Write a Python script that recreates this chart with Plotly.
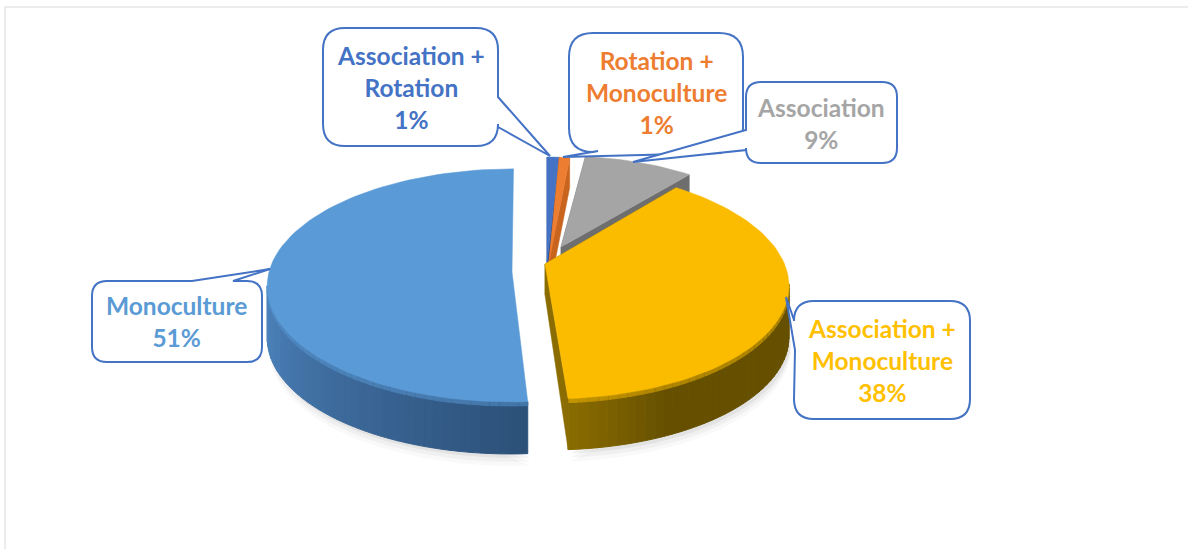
import math
import plotly.graph_objects as go

# ---- data ----
labels = ["Association +<br>Rotation", "Rotation +<br>Monoculture", "Association",
          "Association +<br>Monoculture", "Monoculture"]
values = [1, 1, 9, 38, 51]
face_colors = ["#4472C4", "#ED7D31", "#A5A5A5", "#FBBC00", "#5A9AD6"]
text_colors = ["#4472C4", "#ED7D31", "#A5A5A5", "#FFC000", "#5B9BD5"]
side_near = ["#2F5597", "#C8641E", "#6E6E6E", "#8A6C00", "#5088C4"]
side_far = ["#2F5597", "#C8641E", "#6E6E6E", "#665000", "#2C5078"]
shade_start = [0, 0, 0, 0, 0.49]
shade_end = [1, 1, 1, 0.15, 1]

# ---- drawing geometry (slice apex, radius, tilt, thickness) ----
apex_x = [547, 549, 561, 545, 512]
apex_y = [262, 262, 247, 264, 272]
radius_x = [220, 190, 225, 239.5, 243]
radius_y = [121, 121, 105, 112, 115]
persp = [0.153, 0.153, 0.153, 0.17, 0.115]
skew = [0, 0, 0, -5, 1.5]
h_center = [30, 30, 15, 31, 50]
h_rim = [30, 30, 18, 51, 52]
cut_side = [True, True, True, True, False]
draw_order = [2, 0, 1, 4, 3]
W, H = 1188, 549


def point(i, r, deg):
    t = math.radians(deg)
    u, v = r * math.sin(t), r * math.cos(t)
    d = 1 + persp[i] * v
    return apex_x[i] + radius_x[i] * u / d + skew[i] * v, apex_y[i] - radius_y[i] * v / d


def thick(i, r):
    return h_center[i] + r * (h_rim[i] - h_center[i])


def mix(a, b, t):
    ca = [int(a[k:k + 2], 16) for k in (1, 3, 5)]
    cb = [int(b[k:k + 2], 16) for k in (1, 3, 5)]
    return "#%02x%02x%02x" % tuple(round(x + (y - x) * t) for x, y in zip(ca, cb))


def poly(fig, xs, ys, color, line=None, width=0.5):
    fig.add_trace(go.Scatter(x=xs + xs[:1], y=ys + ys[:1], mode="lines", fill="toself",
                             fillcolor=color, line=dict(color=line or color, width=width),
                             hoverinfo="skip", showlegend=False))


fig = go.Figure()
total = sum(values)
cum = [sum(values[:i]) for i in range(len(values))]
spans = [(c / total * 360, (c + v) / total * 360) for c, v in zip(cum, values)]

for i in draw_order:
    a0, a1 = spans[i]
    n = max(2, int((a1 - a0) / 2))
    angs = [a0 + (a1 - a0) * k / n for k in range(n + 1)]
    rim = [point(i, 1, a) for a in angs]
    h = thick(i, 1)
    front = [(p, a) for p, a in zip(rim, angs) if math.cos(math.radians(a)) < -persp[i]]
    # soft shadow under large slices
    if values[i] > 20:
        for grow, alpha in ((12, 0.025), (8, 0.035), (4, 0.05)):
            xs = [p[0] + 2 for p, _ in front]
            ys = [p[1] + h + grow for p, _ in front]
            poly(fig, xs, ys, f"rgba(0,0,0,{alpha})", line="rgba(0,0,0,0)", width=0)
    # rim wall, only where it faces the viewer
    for k in range(len(front) - 1):
        (x0, y0), a_k = front[k]
        (x1, y1), a_n = front[k + 1]
        t = abs(a1 - (a_k + a_n) / 2) / (a1 - a0)
        f = max(0, min(1, (t - shade_start[i]) / (shade_end[i] - shade_start[i])))
        c = mix(side_near[i], side_far[i], f)
        poly(fig, [x0, x1, x1, x0], [y0, y1, y1 + h, y0 + h], c, width=1)
        lip = mix(face_colors[i], c, 0.5)
        poly(fig, [x0, x1, x1, x0], [y0, y1, y1 + 4, y0 + 4], lip, width=1)
    # cut walls
    if cut_side[i]:
        for a in (a0, a1):
            x1, y1 = point(i, 1, a)
            c = side_near[i]
            poly(fig, [apex_x[i], x1, x1, apex_x[i]],
                 [apex_y[i], y1, y1 + h, apex_y[i] + h_center[i]], c)
    # top face
    xs = [apex_x[i]] + [p[0] for p in rim]
    ys = [apex_y[i]] + [p[1] for p in rim]
    poly(fig, xs, ys, face_colors[i])


def bubble(x0, y0, x1, y1, r, side, pts):
    """Rounded rectangle callout; pts are the pointer vertices on the given side."""
    p = [f"M {x0 + r} {y0}"]
    if side == "top":
        p += [f"L {a} {b}" for a, b in pts]
    p += [f"L {x1 - r} {y0}", f"Q {x1} {y0} {x1} {y0 + r}"]
    if side == "right":
        p += [f"L {a} {b}" for a, b in pts]
    p += [f"L {x1} {y1 - r}", f"Q {x1} {y1} {x1 - r} {y1}"]
    if side == "bottom":
        p += [f"L {a} {b}" for a, b in pts]
    p += [f"L {x0 + r} {y1}", f"Q {x0} {y1} {x0} {y1 - r}"]
    if side == "left":
        p += [f"L {a} {b}" for a, b in pts]
    p += [f"L {x0} {y0 + r}", f"Q {x0} {y0} {x0 + r} {y0} Z"]
    return dict(type="path", path=" ".join(p), xref="x", yref="y", fillcolor="white",
                line=dict(color="#4472C4", width=2), layer="above")


shapes = [
    dict(type="rect", xref="x", yref="y", x0=5, y0=7, x1=W + 20, y1=H + 20,
         line=dict(color="#D9D9D9", width=1), layer="below"),
    bubble(323, 28, 498, 146, 22, "right", [(498, 97), (550, 156), (498, 127)]),
    bubble(569, 33, 743, 152, 24, "bottom", [(720, 153), (563, 157), (598, 151)]),
    bubble(746, 82, 897, 163, 15, "left", [(746, 150), (633, 162), (746, 130)]),
    bubble(92, 281, 262, 362, 15, "top", [(192, 281), (270, 269), (233, 281)]),
    bubble(794, 301, 970, 419, 20, "left", [(795, 350), (786, 297), (794, 320)]),
]

text_centers = [(410.5, 87), (656, 92), (821, 123.5), (882, 360), (176, 321.5)]
annotations = [
    dict(x=c[0], y=c[1], xref="x", yref="y", text=f"{lab}<br>{val}%", showarrow=False,
         xanchor="center", yanchor="middle", align="center",
         font=dict(family="Lato", size=24.5, color=col, weight="bold"))
    for lab, val, col, c in zip(labels, values, text_colors, text_centers)
]

fig.update_layout(
    width=W, height=H, margin=dict(l=0, r=0, t=0, b=0),
    paper_bgcolor="white", plot_bgcolor="white", showlegend=False,
    xaxis=dict(range=[0, W], visible=False, fixedrange=True),
    yaxis=dict(range=[H, 0], visible=False, fixedrange=True),
    shapes=shapes, annotations=annotations,
)
fig.write_html("out.html", config={"displayModeBar": False},
               post_script="document.body.style.margin='0';document.body.style.overflow='hidden';")
